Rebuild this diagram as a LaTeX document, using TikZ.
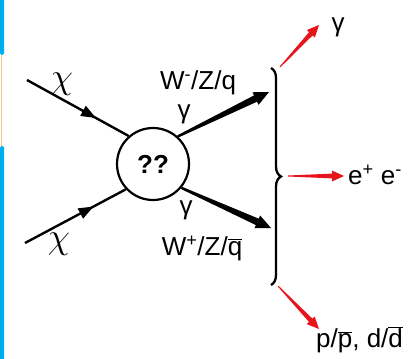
\documentclass[tikz,border=0pt]{standalone}
\usepackage{fontspec}
\usepackage{graphicx}
\setmainfont{Liberation Sans}
\usetikzlibrary{calc,decorations.pathreplacing,decorations.markings,arrows.meta}
\definecolor{barblue}{HTML}{00AEEF}
\definecolor{barorange}{HTML}{F6C48E}
\definecolor{arrred}{HTML}{E8141C}
\newcommand{\taperarrow}[7]{%
  \coordinate (tmpN) at ($(#3)!#6!(#2)$);
  \fill[#1] ($(#2)!#4!90:(#3)$) -- ($(tmpN)!#5!-90:(#2)$) -- ($(tmpN)!#7!-90:(#2)$) -- (#3)
    -- ($(tmpN)!#7!90:(#2)$) -- ($(tmpN)!#5!90:(#2)$) -- ($(#2)!#4!-90:(#3)$) -- cycle;
}
\newcommand{\bigchi}{\scalebox{1.45}{$\chi$}}
\tikzset{
  lbl/.style={inner sep=0pt, font=\fontsize{26}{28}\selectfont},
  chilbl/.style={inner sep=0pt, font=\fontsize{24}{26}\selectfont},
  inline/.style={line width=2.4pt, decoration={markings, mark=at position 0.68 with {\arrow{Triangle[length=15pt,width=11pt]}}}, postaction={decorate}},
}
\begin{document}
\begin{tikzpicture}[x=1pt,y=-1pt]
\useasboundingbox (0,0) rectangle (414,358);
% left bar
\fill[barblue, rounded corners=1.5pt] (0,-3) rectangle (4,55);
\fill[barblue, rounded corners=1.5pt] (0,146) rectangle (4,361);
\draw[barorange, line width=1pt] (1.8,55) -- (1.8,146);
% central blob
\node[circle, draw, line width=2.2pt, minimum size=72pt, inner sep=0pt, font=\bfseries\fontsize{26}{28}\selectfont] (blob) at (153,164) {??};
% incoming
\coordinate (in1) at (27,80);
\coordinate (in2) at (25,243);
\draw[inline] (in1) -- (blob.131);
\draw[inline] (in2) -- (blob.223);
\node[chilbl] (chi1) at (62,84) {\bigchi};
\node[chilbl] (chi2) at (59,244) {\bigchi};
% outgoing
\coordinate (tip1) at (269,92);
\coordinate (tip2) at (271,228);
\taperarrow{black}{blob.48}{tip1}{1.2pt}{3.5pt}{15pt}{7pt}
\taperarrow{black}{blob.-40}{tip2}{1.2pt}{3.5pt}{15pt}{7pt}
\node[lbl] (wm) at (198,83) {W\textsuperscript{-}/Z/q};
\node[lbl] (g1) at (184,114) {γ};
\node[lbl] (g2) at (186,210) {γ};
\node[lbl] (wp) at (202,248) {W\textsuperscript{+}/Z/$\overline{\mbox{q}}$};
% brace
\coordinate (bt) at (271,68);
\coordinate (bb) at (271,285);
\draw[line width=2.3pt, decorate, decoration={brace, amplitude=10pt, aspect=0.5}] (bt) -- (bb);
% red arrows
\coordinate (r1s) at (280,67);
\coordinate (r1t) at (319,25);
\coordinate (r2s) at (288,176);
\coordinate (r2t) at (344,176);
\coordinate (r3s) at (278,286);
\coordinate (r3t) at (319,329);
\taperarrow{arrred}{r1s}{r1t}{0.5pt}{2.4pt}{12pt}{5.5pt}
\taperarrow{arrred}{r2s}{r2t}{0.5pt}{2.4pt}{12pt}{5.5pt}
\taperarrow{arrred}{r3s}{r3t}{0.5pt}{2.4pt}{12pt}{5.5pt}
\node[lbl] (gam) at (338,27) {γ};
\node[lbl] (ee) at (375,175) {e\textsuperscript{+} e\textsuperscript{-}};
\node[lbl, anchor=west] (pd) at (316,340) {p/$\overline{\mbox{p}}$, d/$\overline{\mbox{d}}$};
\end{tikzpicture}
\end{document}
